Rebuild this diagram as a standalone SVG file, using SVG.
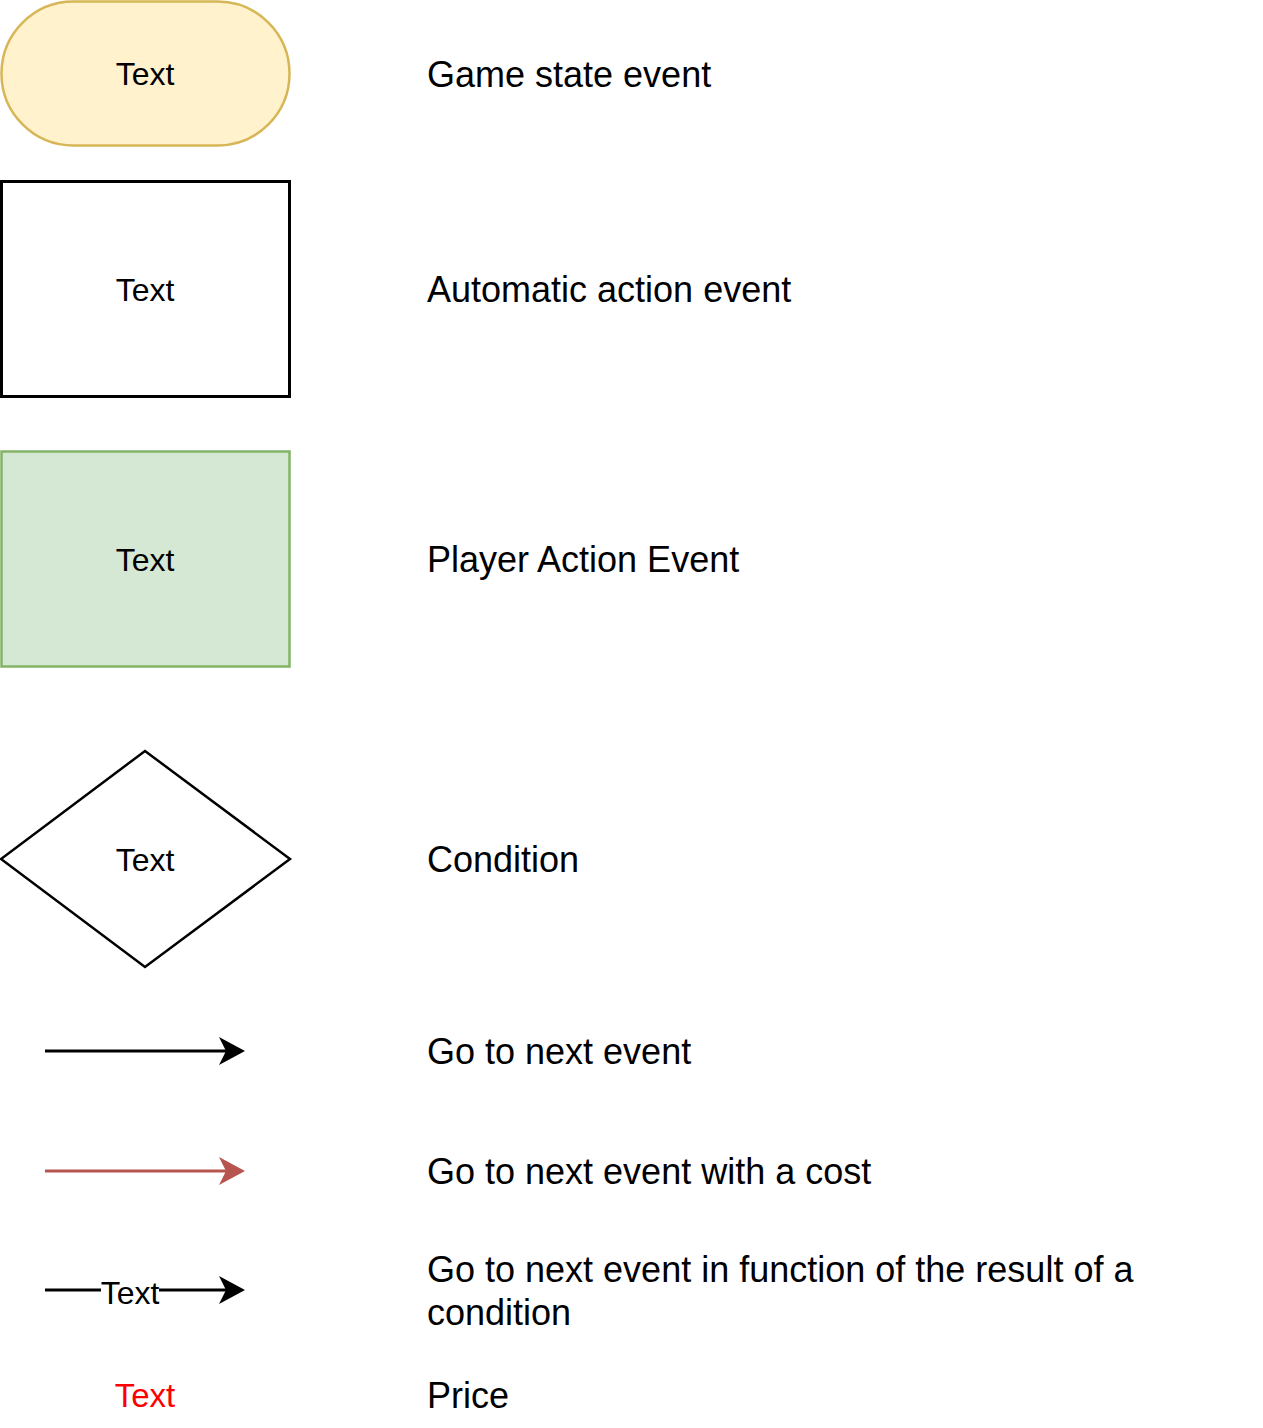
<svg xmlns="http://www.w3.org/2000/svg" width="1263" height="1428" viewBox="0 0 1263 1428">
<style>
.t{font-family:"Liberation Sans",Arial,sans-serif;font-size:32px;fill:#000;text-anchor:middle}
.l{font-family:"Liberation Sans",Arial,sans-serif;font-size:36px;fill:#000}
</style>
<defs>
<marker id="ab" markerUnits="userSpaceOnUse" markerWidth="30" markerHeight="30" refX="7" refY="14" orient="auto" viewBox="0 0 30 30">
<path d="M26,14 L0,0 L7,14 L0,28 Z" fill="#000"/>
</marker>
<marker id="ar" markerUnits="userSpaceOnUse" markerWidth="30" markerHeight="30" refX="7" refY="14" orient="auto" viewBox="0 0 30 30">
<path d="M26,14 L0,0 L7,14 L0,28 Z" fill="#b85450"/>
</marker>
</defs>
<rect width="1263" height="1428" fill="#fff"/>
<g id="game-state">
<rect x="1.5" y="1.5" width="288" height="144" rx="72" ry="72" fill="#fff2cc" stroke="#d6b656" stroke-width="2.5"/>
<text class="t" x="145" y="85">Text</text>
</g>
<g id="auto-action">
<rect x="1.5" y="181.5" width="288" height="215" fill="#fff" stroke="#000" stroke-width="3"/>
<text class="t" x="145" y="301">Text</text>
</g>
<g id="player-action">
<rect x="1.5" y="451.5" width="288" height="215" fill="#d5e8d4" stroke="#82b366" stroke-width="2.5"/>
<text class="t" x="145" y="571">Text</text>
</g>
<g id="condition">
<polygon points="145,751 290,859 145,967 1,859" fill="#fff" stroke="#000" stroke-width="2.5"/>
<text class="t" x="145" y="871">Text</text>
</g>
<g id="connectors">
<line x1="45" y1="1051" x2="226" y2="1051" stroke="#000" stroke-width="3" marker-end="url(#ab)"/>
<line x1="45" y1="1171" x2="226" y2="1171" stroke="#b85450" stroke-width="3" marker-end="url(#ar)"/>
<line x1="45" y1="1290" x2="226" y2="1290" stroke="#000" stroke-width="3" marker-end="url(#ab)"/>
<rect x="101" y="1276" width="58" height="30" fill="#fff"/>
<text class="t" x="130" y="1304">Text</text>
</g>
<g id="price">
<text class="t" x="145" y="1407" style="fill:#ff0000;font-size:33px">Text</text>
</g>
<g id="labels">
<text class="l" x="427" y="87">Game state event</text>
<text class="l" x="427" y="302">Automatic action event</text>
<text class="l" x="427" y="572">Player Action Event</text>
<text class="l" x="427" y="872">Condition</text>
<text class="l" x="427" y="1064">Go to next event</text>
<text class="l" x="427" y="1184">Go to next event with a cost</text>
<text class="l" x="427" y="1282">Go to next event in function of the result of a</text>
<text class="l" x="427" y="1325">condition</text>
<text class="l" x="427" y="1408">Price</text>
</g>
</svg>
